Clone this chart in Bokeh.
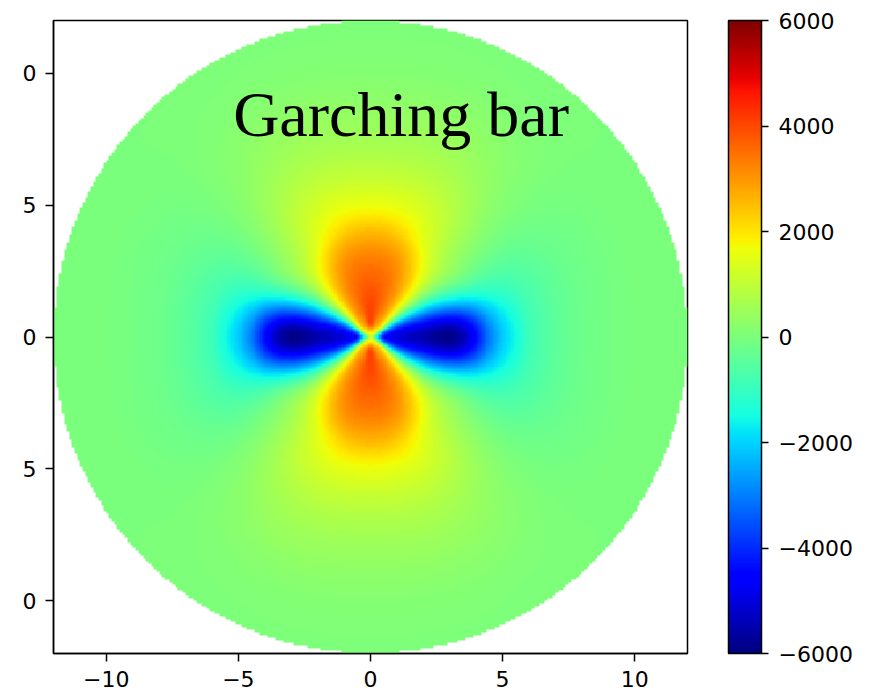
import numpy as np
from bokeh.plotting import figure
from bokeh.models import LinearColorMapper, ColorBar, FixedTicker, Label
from bokeh.embed import file_html
from bokeh.resources import INLINE

# ---- data ----
title_text = "Garching bar"
# radial sample points (kpc) and field values along five directions
radius = [0, 0.5, 1, 1.5, 2, 2.5, 3, 3.5, 4, 4.5, 5, 6, 7, 8, 9, 10, 11, 12]
angles_deg = [0, 22.5, 45, 67.5, 90]
along_0 = [1000, -4500, -5000, -5300, -5500, -5800, -5950, -5500, -4400, -3000, -2100, -900, -450, -220, -100, -40, -10, 0]
along_22 = [1000, -2500, -3300, -3300, -3100, -2900, -2500, -2000, -1500, -1150, -950, -650, -400, -220, -120, -50, -15, 0]
along_45 = [1000, 1800, 1500, 1350, 1300, 1200, 1050, 850, 650, 500, 400, 250, 140, 80, 45, 20, 10, 0]
along_67 = [1000, 3000, 3300, 3350, 3300, 3150, 2900, 2500, 2000, 1650, 1400, 1000, 680, 460, 280, 140, 60, 20]
along_90 = [1000, 4100, 4100, 3950, 3750, 3550, 3300, 2950, 2550, 2050, 1600, 1080, 700, 450, 270, 130, 60, 20]
disk_radius = 12
x_ticks = [-10, -5, 0, 5, 10]
y_ticks = [-10, -5, 0, 5, 10]
y_tick_labels = ["0", "5", "0", "5", "0"]   # left digits are cut off in the reference
cbar_ticks = [-6000, -4000, -2000, 0, 2000, 4000, 6000]
vmin, vmax = -6000, 6000

# ---- jet palette ----
def jet_palette(n=256):
    t = np.linspace(0, 1, n)
    r = np.interp(t, [0, 0.35, 0.66, 0.89, 1], [0, 0, 1, 1, 0.5])
    g = np.interp(t, [0, 0.125, 0.375, 0.64, 0.91, 1], [0, 0, 1, 1, 0, 0])
    b = np.interp(t, [0, 0.11, 0.34, 0.65, 1], [0.5, 1, 1, 0, 0])
    return ["#%02x%02x%02x" % (int(round(a * 255)), int(round(c * 255)), int(round(d * 255)))
            for a, c, d in zip(r, g, b)]

# ---- build the field from the read profiles (harmonics through the 5 directions) ----
profiles = np.array([along_0, along_22, along_45, along_67, along_90], dtype=float)
th = np.radians(angles_deg)
M = np.array([[np.cos(2 * k * a) for k in range(5)] for a in th])
coef = np.linalg.solve(M, profiles)          # 5 x nr harmonic coefficients

n = 240
edges = np.linspace(-disk_radius, disk_radius, n + 1)
centers = 0.5 * (edges[:-1] + edges[1:])
X, Y = np.meshgrid(centers, centers)
R = np.hypot(X, Y)
T = np.arctan2(Y, X)
field = np.zeros_like(R)
for k in range(5):
    ck = np.interp(R, radius, coef[k])
    field += ck * np.cos(2 * k * T)
field[R > disk_radius] = np.nan

mapper = LinearColorMapper(palette=jet_palette(), low=vmin, high=vmax, nan_color="rgba(0,0,0,0)")

p = figure(output_backend="svg", toolbar_location=None,
           x_range=(-12, 12), y_range=(-12, 12),
           frame_width=634, frame_height=633,
           min_border_left=53, min_border_top=20, min_border_bottom=44, min_border_right=10)
p.image(image=[field], x=-disk_radius, y=-disk_radius, dw=2 * disk_radius, dh=2 * disk_radius,
        color_mapper=mapper)

p.xgrid.visible = False
p.ygrid.visible = False
p.outline_line_color = "black"
p.outline_line_width = 1.5
p.background_fill_color = "white"
p.border_fill_color = "white"

for ax in (p.xaxis[0], p.yaxis[0]):
    ax.major_label_text_font = "DejaVu Sans"
    ax.major_label_text_font_size = "22px"
    ax.major_label_text_color = "black"
    ax.axis_line_color = "black"
    ax.axis_line_width = 1.5
    ax.major_tick_line_color = "black"
    ax.major_tick_line_width = 1.5
    ax.major_tick_out = 8
    ax.major_tick_in = 0
    ax.minor_tick_line_color = None
    ax.major_label_standoff = 9

p.xaxis.ticker = FixedTicker(ticks=x_ticks)
p.xaxis.major_label_overrides = {t: (str(t).replace("-", "\u2212")) for t in x_ticks}
p.yaxis.ticker = FixedTicker(ticks=y_ticks)
p.yaxis.major_label_overrides = {t: lab for t, lab in zip(y_ticks, y_tick_labels)}

cbar = ColorBar(color_mapper=mapper, ticker=FixedTicker(ticks=cbar_ticks),
                width=33, height=633, padding=0, margin=0,
                location=(41, 0),
                bar_line_color="black", bar_line_width=1.5,
                major_tick_line_color="black", major_tick_line_width=1.5,
                major_tick_out=7, major_tick_in=0,
                minor_tick_line_color=None,
                label_standoff=10,
                major_label_text_font="DejaVu Sans",
                major_label_text_font_size="22px",
                major_label_text_color="black",
                background_fill_alpha=0, border_line_color=None)
cbar.major_label_overrides = {t: str(t).replace("-", "\u2212") for t in cbar_ticks}
p.add_layout(cbar, "right")

p.add_layout(Label(x=-5.2, y=8.45, text=title_text, text_font="Liberation Serif",
                   text_font_size="64px", text_color="black", text_baseline="alphabetic",
                   text_align="left"))

open("out.html", "w").write(file_html(p, INLINE))
